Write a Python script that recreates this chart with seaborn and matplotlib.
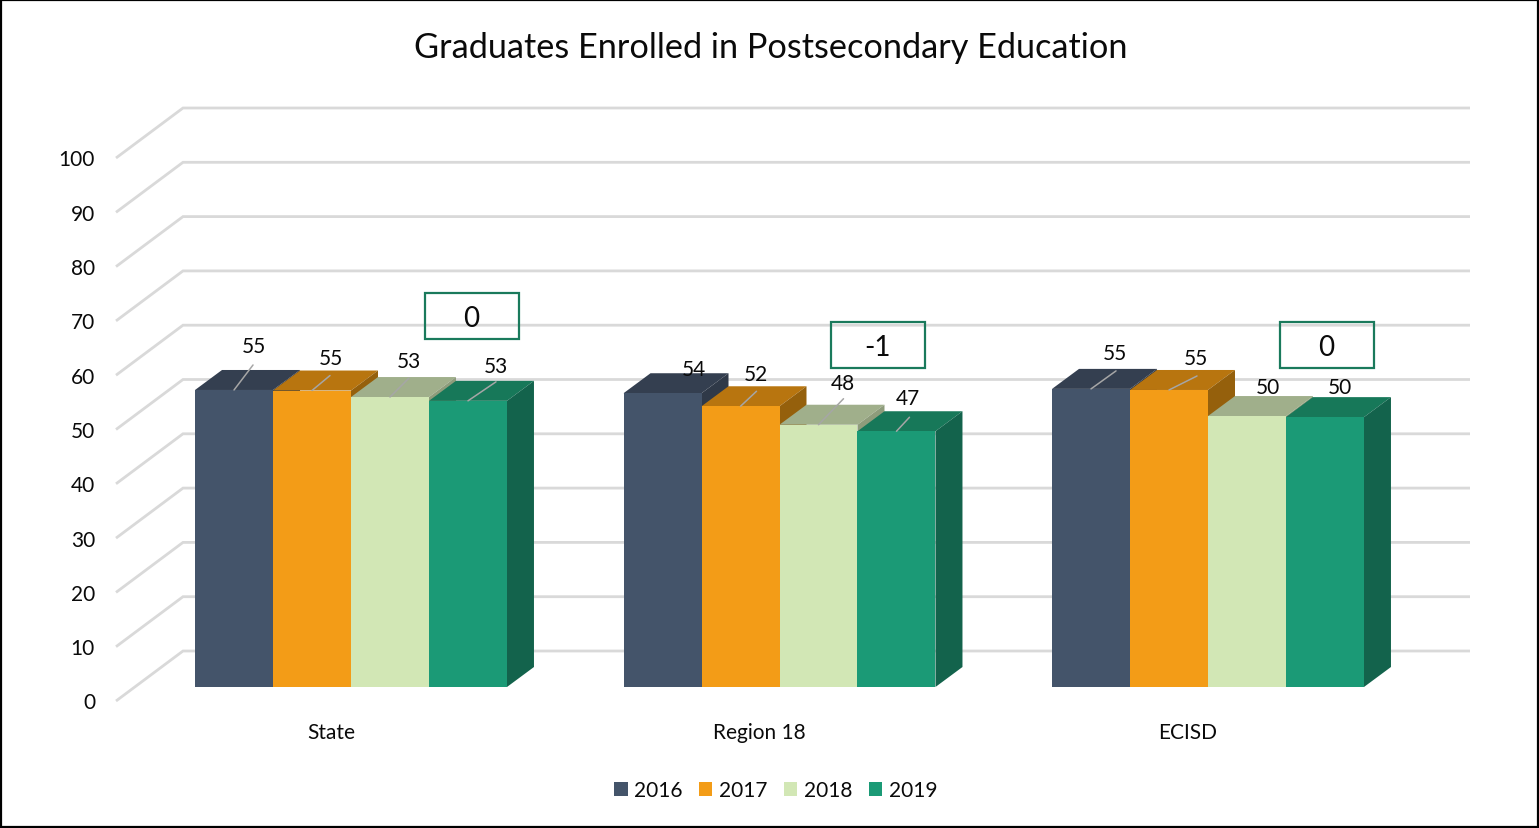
import pandas as pd
import seaborn as sns
import matplotlib.pyplot as plt
from matplotlib.patches import Patch, Rectangle

# Data
groups = ['State', 'Region 18', 'ECISD']
years = ['2016', '2017', '2018', '2019']
values_2016 = [54.7, 54.1, 54.9]
values_2017 = [54.6, 51.7, 54.7]
values_2018 = [53.4, 48.3, 49.9]
values_2019 = [52.7, 47.1, 49.7]
callouts = ['0', '-1', '0']
y_ticks = [0, 10, 20, 30, 40, 50, 60, 70, 80, 90, 100]

# Colours: front, top, side
front_colors = ['#44546A', '#F39C17', '#D2E7B5', '#1B9A76']
top_colors = ['#343F50', '#B8750F', '#A0AF8B', '#177859']
side_colors = ['#2F3948', '#95600C', '#8E9C7B', '#13634C']

# Layout in pixels of the 1539x829 picture
W, H = 1539, 829
GROUP_STEP = 428.5
FIRST_GROUP = 351
BASE_Y = 688
PX_PER_UNIT = 5.43
DEPTH_X, DEPTH_Y = 27, 20

# Label and leader offsets from the top of each bar, in pixels (one row per year)
label_offsets = [[(20, 44), (31, 24), (24, 36)],
                 [(19, 33), (15, 32), (27, 32)],
                 [(19, 36), (24, 42), (21, 29)],
                 [(28, 35), (11, 33), (15, 30)]]
leader_ends = [[(19, 25), None, (25, 18)],
               [(18, 15), (16, 15), (28, 14)],
               [(19, 19), (25, 26), None],
               [(28, 19), (13, 14), None]]


def px_x(x):
    return (x - FIRST_GROUP) / GROUP_STEP


def px_y(y):
    return (BASE_Y - y) / PX_PER_UNIT


sns.set_theme(style='white')
plt.rcParams['font.family'] = ['Lato', 'DejaVu Sans']

df = pd.DataFrame({
    'group': groups * 4,
    'year': [y for y in years for _ in groups],
    'value': values_2016 + values_2017 + values_2018 + values_2019,
})

fig = plt.figure(figsize=(W / 100, H / 100), dpi=100)
ax = fig.add_axes([0, 0, 1, 1])
sns.barplot(data=df, x='group', y='value', hue='year', order=groups, hue_order=years,
            palette=front_colors, saturation=1, width=0.728, gap=0, legend=False,
            linewidth=0, ax=ax)
ax.set_xlim(px_x(0), px_x(W))
ax.set_ylim(px_y(H), px_y(0))
ax.axis('off')

# Walls of the 3D box: gridlines with the diagonal floor piece
for tick in y_ticks:
    back = tick + px_y(652)
    front = tick + px_y(702)
    ax.plot([px_x(116), px_x(183), px_x(1470)], [front, back, back], color='#D9D9D9',
            lw=2, solid_joinstyle='miter', solid_capstyle='butt', zorder=1)
    ax.text(px_x(95), front - 1.5 / PX_PER_UNIT, str(tick), ha='right', va='center',
            fontsize=15, color='#0A0A0A')

# Top and side faces, painted left to right so each bar covers its neighbour
dx = DEPTH_X / GROUP_STEP
dy = DEPTH_Y / PX_PER_UNIT
for i, container in enumerate(ax.containers):
    for j, bar in enumerate(container):
        x0, x1 = bar.get_x(), bar.get_x() + bar.get_width()
        top = bar.get_height()
        z = 2 + i * 0.1
        ax.fill([x0, x1, x1 + dx, x0 + dx], [top, top, top + dy, top + dy],
                color=top_colors[i], lw=0, zorder=z)
        ax.fill([x1, x1 + dx, x1 + dx, x1], [0, dy, top + dy, top],
                color=side_colors[i], lw=0, zorder=z)
        bar.set_zorder(z + 0.05)

        center = (x0 + x1) / 2
        if leader_ends[i][j] is not None:
            ax.annotate('', xy=(center, top), xytext=leader_ends[i][j], textcoords='offset pixels',
                        arrowprops=dict(arrowstyle='-', color='#A6A6A6', lw=1.1, shrinkA=0, shrinkB=0),
                        zorder=3)
        ax.annotate(f'{top:.0f}', xy=(center, top), xytext=label_offsets[i][j],
                    textcoords='offset pixels', ha='center', va='center',
                    fontsize=15, color='#0A0A0A', zorder=4)

# Group names sit a little left of the bars, as in the 3D original
for i, name in enumerate(groups):
    ax.text(i - 20 / GROUP_STEP, px_y(733), name, ha='center', va='center', fontsize=15,
            color='#0A0A0A')

# Change callouts
box_left = [425, 831, 1280]
box_top = [294, 323, 323]
for text, left, top in zip(callouts, box_left, box_top):
    ax.add_patch(Rectangle((px_x(left), px_y(top + 46)), 94 / GROUP_STEP, 46 / PX_PER_UNIT,
                           fill=False, edgecolor='#1A7A5C', lw=1.6, zorder=5))
    ax.text(px_x(left + 46), px_y(top + 25), text, ha='center', va='center',
            fontsize=20, color='#0A0A0A', zorder=6)

ax.text(px_x(771), px_y(48), 'Graduates Enrolled in Postsecondary Education', ha='center',
        va='center', fontsize=24.7, color='#0A0A0A')

handles = [Patch(facecolor=c, edgecolor='none', label=y) for c, y in zip(front_colors, years)]
ax.legend(handles=handles, ncol=4, frameon=False, loc='center', fontsize=15,
          bbox_to_anchor=(775.5 / W, 1 - 791 / H), handlelength=0.65, handleheight=0.65,
          handletextpad=0.3, columnspacing=0.8, labelcolor='#0A0A0A')

# Black frame around the picture
fig.add_artist(Rectangle((1 / W, 1 / H), 1 - 2 / W, 1 - 2 / H, transform=fig.transFigure,
                         fill=False, edgecolor='black', lw=1.6))

fig.savefig('out.png', dpi=100)
